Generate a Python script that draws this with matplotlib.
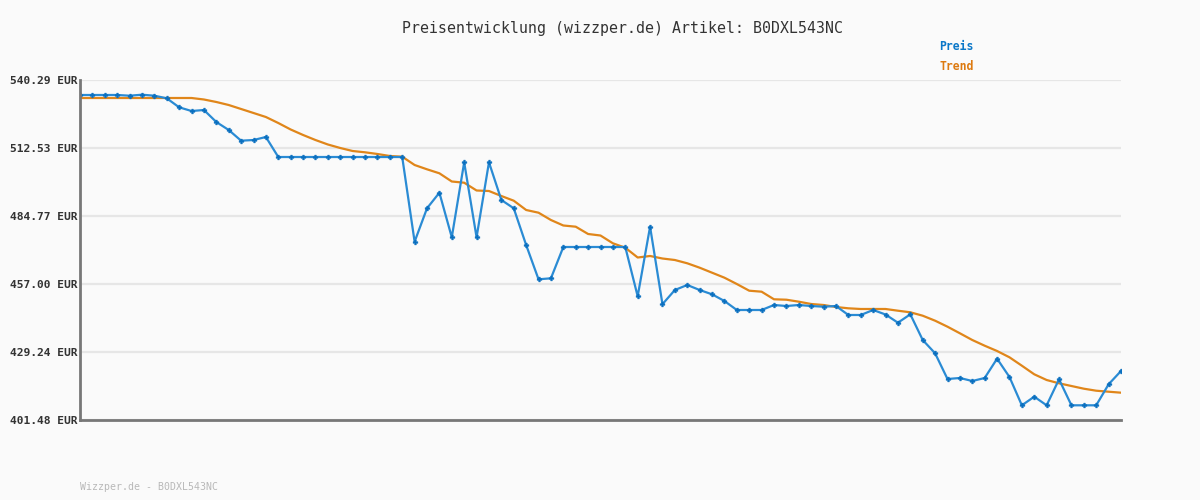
import matplotlib
matplotlib.use("Agg")
import matplotlib.pyplot as plt
import numpy as np

title = "Preisentwicklung (wizzper.de) Artikel: B0DXL543NC"
footer = "Wizzper.de - B0DXL543NC"
ytick_values = [401.48, 429.24, 457.00, 484.77, 512.53, 540.29]
ytick_labels = [f"{v:.2f} EUR" for v in ytick_values]

preis = [
    534.17, 534.17, 534.17, 534.17, 533.88, 534.29, 533.88, 532.82, 529.14, 527.63,
    528.04, 523.14, 519.88, 515.51, 515.79, 517.02, 508.85, 508.85, 508.85, 508.85,
    508.85, 508.85, 508.85, 508.85, 508.85, 508.85, 508.85, 474.27, 487.91, 494.28,
    476.07, 506.69, 476.07, 506.69, 491.30, 487.91, 472.93, 458.92, 459.33, 472.11,
    472.11, 472.11, 472.11, 472.11, 472.11, 451.98, 480.40, 448.76, 454.55, 456.60,
    454.55, 452.80, 450.06, 446.39, 446.39, 446.39, 448.43, 448.02, 448.43, 448.02,
    447.74, 448.02, 444.35, 444.35, 446.39, 444.55, 441.20, 444.63, 434.14, 428.71,
    418.22, 418.63, 417.40, 418.63, 426.51, 419.04, 407.48, 410.99, 407.48, 418.10,
    407.48, 407.48, 407.48, 416.06, 421.49,
]

trend = [
    532.94, 532.94, 532.94, 532.94, 532.94, 532.94, 532.94, 532.94, 532.94, 532.94,
    532.33, 531.31, 530.08, 528.45, 526.82, 525.18, 522.73, 520.08, 517.84, 515.79,
    513.96, 512.53, 511.30, 510.77, 510.08, 509.26, 508.98, 505.59, 503.83, 502.20,
    498.85, 498.36, 495.18, 494.97, 492.93, 491.01, 487.22, 486.11, 483.13, 480.89,
    480.40, 477.42, 476.80, 473.62, 471.82, 467.82, 468.44, 467.41, 466.80, 465.46,
    463.66, 461.62, 459.58, 457.00, 454.27, 453.86, 450.76, 450.59, 449.78, 448.84,
    448.43, 447.61, 447.08, 446.80, 446.80, 446.80, 446.10, 445.45, 444.06, 442.02,
    439.57, 436.88, 434.14, 431.81, 429.65, 427.08, 423.65, 420.14, 417.81, 416.46,
    415.36, 414.26, 413.44, 413.03, 412.63,
]

BG = "#fafafa"
BLUE_LINE = "#2a8bd4"
BLUE_MARK = "#0a6fbf"
ORANGE = "#e0861a"

fig = plt.figure(figsize=(12, 5), dpi=100, facecolor=BG)
ax = fig.add_axes([80 / 1200, 80 / 500, 1041 / 1200, 340 / 500])
ax.set_facecolor(BG)

x = np.arange(len(preis))
ax.plot(x, trend, color=ORANGE, lw=1.6, zorder=3, solid_joinstyle="round")
ax.plot(x, preis, color=BLUE_LINE, lw=1.6, zorder=4, marker="P",
        markersize=3.5, markerfacecolor=BLUE_MARK, markeredgecolor=BLUE_MARK,
        markeredgewidth=0.3)

ax.set_xlim(0, len(preis) - 1)
ax.set_ylim(ytick_values[0], ytick_values[-1])
ax.set_yticks(ytick_values)
ax.set_yticklabels(ytick_labels, family="DejaVu Sans Mono", fontweight="bold",
                   fontsize=8.1, color="#333333")
ax.set_xticks([])
ax.tick_params(axis="y", length=0, pad=1.5)
ax.grid(axis="y", color="#e6e6e6", lw=1.6, zorder=1)
ax.set_axisbelow(True)

for s in ["top", "right"]:
    ax.spines[s].set_visible(False)
for s in ["left", "bottom"]:
    ax.spines[s].set_color("#777777")
    ax.spines[s].set_linewidth(2)
    ax.spines[s].set_zorder(5)

fig.text(623 / 1200, 1 - 28 / 500, title, ha="center", va="center",
         family="DejaVu Sans Mono", fontsize=10.7, color="#333333")
fig.text(939 / 1200, 1 - 46 / 500, "Preis", ha="left", va="center",
         family="DejaVu Sans Mono", fontweight="bold", fontsize=8.3, color="#0a77c8")
fig.text(939 / 1200, 1 - 67 / 500, "Trend", ha="left", va="center",
         family="DejaVu Sans Mono", fontweight="bold", fontsize=8.3, color="#dd7a10")
fig.text(80 / 1200, 1 - 487 / 500, footer, ha="left", va="center",
         family="DejaVu Sans Mono", fontsize=7.1, color="#b8b8b8")

fig.savefig("out.png", dpi=100, facecolor=BG)
